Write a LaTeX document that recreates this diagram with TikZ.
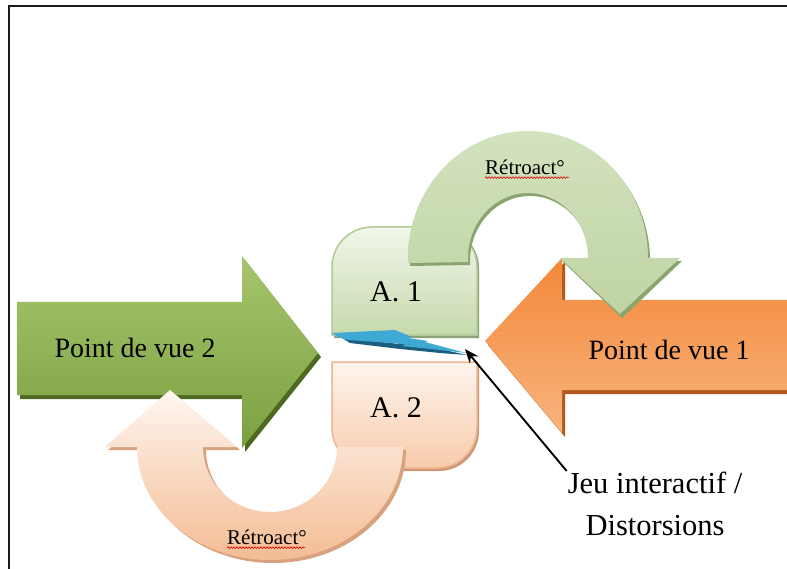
\documentclass[tikz,border=0pt]{standalone}
\usepackage{fontspec}
\setmainfont{Liberation Serif}
\usetikzlibrary{arrows.meta,decorations.pathmorphing}
\definecolor{frameC}{HTML}{1A1A1A}
\definecolor{gTop}{HTML}{A6C56C}
\definecolor{gBot}{HTML}{7CA041}
\definecolor{gShad}{HTML}{4E6A22}
\definecolor{oTop}{HTML}{F3883A}
\definecolor{oBot}{HTML}{F8B47E}
\definecolor{oShad}{HTML}{B1581A}
\definecolor{aOneTop}{HTML}{F1F6EA}
\definecolor{aOneBot}{HTML}{C6DAAD}
\definecolor{aOneEdge}{HTML}{B2CA95}
\definecolor{aTwoTop}{HTML}{FEF5EE}
\definecolor{aTwoBot}{HTML}{F7CBAA}
\definecolor{aTwoEdge}{HTML}{EFB48D}
\definecolor{arcGTop}{HTML}{D3E2BF}
\definecolor{arcGBot}{HTML}{BFD4A3}
\definecolor{arcGShad}{HTML}{8AA46E}
\definecolor{arcOTop}{HTML}{FFF6F0}
\definecolor{arcOBot}{HTML}{F3BC94}
\definecolor{arcOShad}{HTML}{D8A27E}
\definecolor{boltC}{HTML}{3EAAD4}
\definecolor{boltE}{HTML}{1B5E80}
\tikzset{
  bigtext/.style={inner sep=0pt, font=\fontsize{28}{32}\selectfont},
  boxtext/.style={inner sep=0pt, font=\fontsize{30}{34}\selectfont},
  smalltext/.style={inner sep=0pt, font=\fontsize{21}{24}\selectfont},
  jeutext/.style={inner sep=3pt, align=center, font=\fontsize{30.5}{42}\selectfont},
  wavy/.style={draw=red!85!black, line width=0.6pt, decorate,
    decoration={snake, amplitude=0.9pt, segment length=3pt}},
  pointer/.style={draw=black, line width=1.9pt, -{Stealth[length=14pt,width=11pt]}}
}
\begin{document}
\begin{tikzpicture}[x=1pt,y=-1pt]
\useasboundingbox (0,0) rectangle (787,569);
\fill[white] (0,0) rectangle (787,569);
% frame
\draw[frameC, line width=2.5pt] (9,569) -- (9,6) -- (787,6);

% green arrow: Point de vue 2
\fill[gShad] (20,306) -- (245,306) -- (245,260) -- (321,357) -- (245,452) -- (245,399) -- (20,399) -- cycle;
\shade[top color=gTop, bottom color=gBot] (17,302) -- (242,302) -- (242,256) -- (318,353) -- (242,448) -- (242,395) -- (17,395) -- cycle;

% orange arrow: Point de vue 1
\fill[oShad] (790,304) -- (565,304) -- (565,262) -- (488,345) -- (565,437) -- (565,394) -- (790,394) -- cycle;
\shade[top color=oTop, bottom color=oBot] (787,300) -- (562,300) -- (562,258) -- (485,341) -- (562,433) -- (562,390) -- (787,390) -- cycle;

% A.1 box
\fill[aOneEdge!80!black] (334,338) -- (334,268) arc[start angle=180,end angle=270,radius=40] -- (439,228) arc[start angle=270,end angle=360,radius=40] -- (479,338) -- cycle;
\shade[top color=aOneTop, bottom color=aOneBot, draw=aOneEdge, line width=1.5pt] (332,335) -- (332,267) arc[start angle=180,end angle=270,radius=40] -- (437,227) arc[start angle=270,end angle=360,radius=40] -- (477,335) -- cycle;

% A.2 box
\fill[aTwoEdge!85!black] (334,365) -- (479,365) -- (479,431) arc[start angle=0,end angle=90,radius=40] -- (374,471) arc[start angle=90,end angle=180,radius=40] -- cycle;
\shade[top color=aTwoTop, bottom color=aTwoBot, draw=aTwoEdge, line width=1.5pt] (332,362) -- (477,362) -- (477,428) arc[start angle=0,end angle=90,radius=40] -- (372,468) arc[start angle=90,end angle=180,radius=40] -- cycle;

% blue bolt
\fill[boltE] (342,338) -- (400,344) -- (398,343) -- (440,349) -- (467,355) -- (440,353) -- (400,349) -- (350,343) -- cycle;
\fill[boltC] (332,333) -- (395,330) -- (412,337) -- (408,338) -- (428,341) -- (425,342) -- (466,353) -- (440,350) -- (402,346) -- (405,344) -- (348,340) -- (338,337) -- cycle;

% top feedback arc (green)
\fill[arcGShad] (410,266) -- (410,261) arc[start angle=180,end angle=360,x radius=120,y radius=127] -- (682,261) -- (622,318) -- (562,261) -- (590,261) arc[start angle=360,end angle=180,x radius=60,y radius=65] -- (470,265) -- cycle;
\shade[top color=arcGTop, bottom color=arcGBot] (408,263) -- (408,258) arc[start angle=180,end angle=360,x radius=120,y radius=127] -- (680,258) -- (620,314) -- (560,258) -- (588,258) arc[start angle=360,end angle=180,x radius=60,y radius=65] -- (468,262) -- cycle;

% bottom feedback arc (peach)
\fill[arcOShad] (406,450) arc[start angle=0,end angle=180,x radius=133,y radius=113] -- (108,450) -- (173,393) -- (240,450) -- (206,450) arc[start angle=180,end angle=0,x radius=67,y radius=65] -- cycle;
\shade[top color=arcOTop, bottom color=arcOBot] (403,447) arc[start angle=0,end angle=180,x radius=133,y radius=113] -- (105,447) -- (170,390) -- (237,447) -- (203,447) arc[start angle=180,end angle=0,x radius=67,y radius=65] -- cycle;

% texts
\node[bigtext] (pv2) at (135,348) {Point de vue 2};
\node[bigtext] (pv1) at (669,350) {Point de vue 1};
\node[boxtext] (a1) at (396,292) {A. 1};
\node[boxtext] (a2) at (396,408) {A. 2};
\node[smalltext] (r1) at (525,167) {Rétroact°};
\node[smalltext] (r2) at (267,537) {Rétroact°};
\draw[wavy] (r1.south west) ++(0,3) -- ++(84,0);
\draw[wavy] (r2.south west) ++(0,3) -- ++(78,0);
\node[jeutext] (jeu) at (655,504) {Jeu interactif /\\Distorsions};

% pointer
\coordinate (tip) at (465,349);
\draw[pointer] ([xshift=2pt,yshift=-2pt]jeu.north west) -- (tip);
\end{tikzpicture}
\end{document}
